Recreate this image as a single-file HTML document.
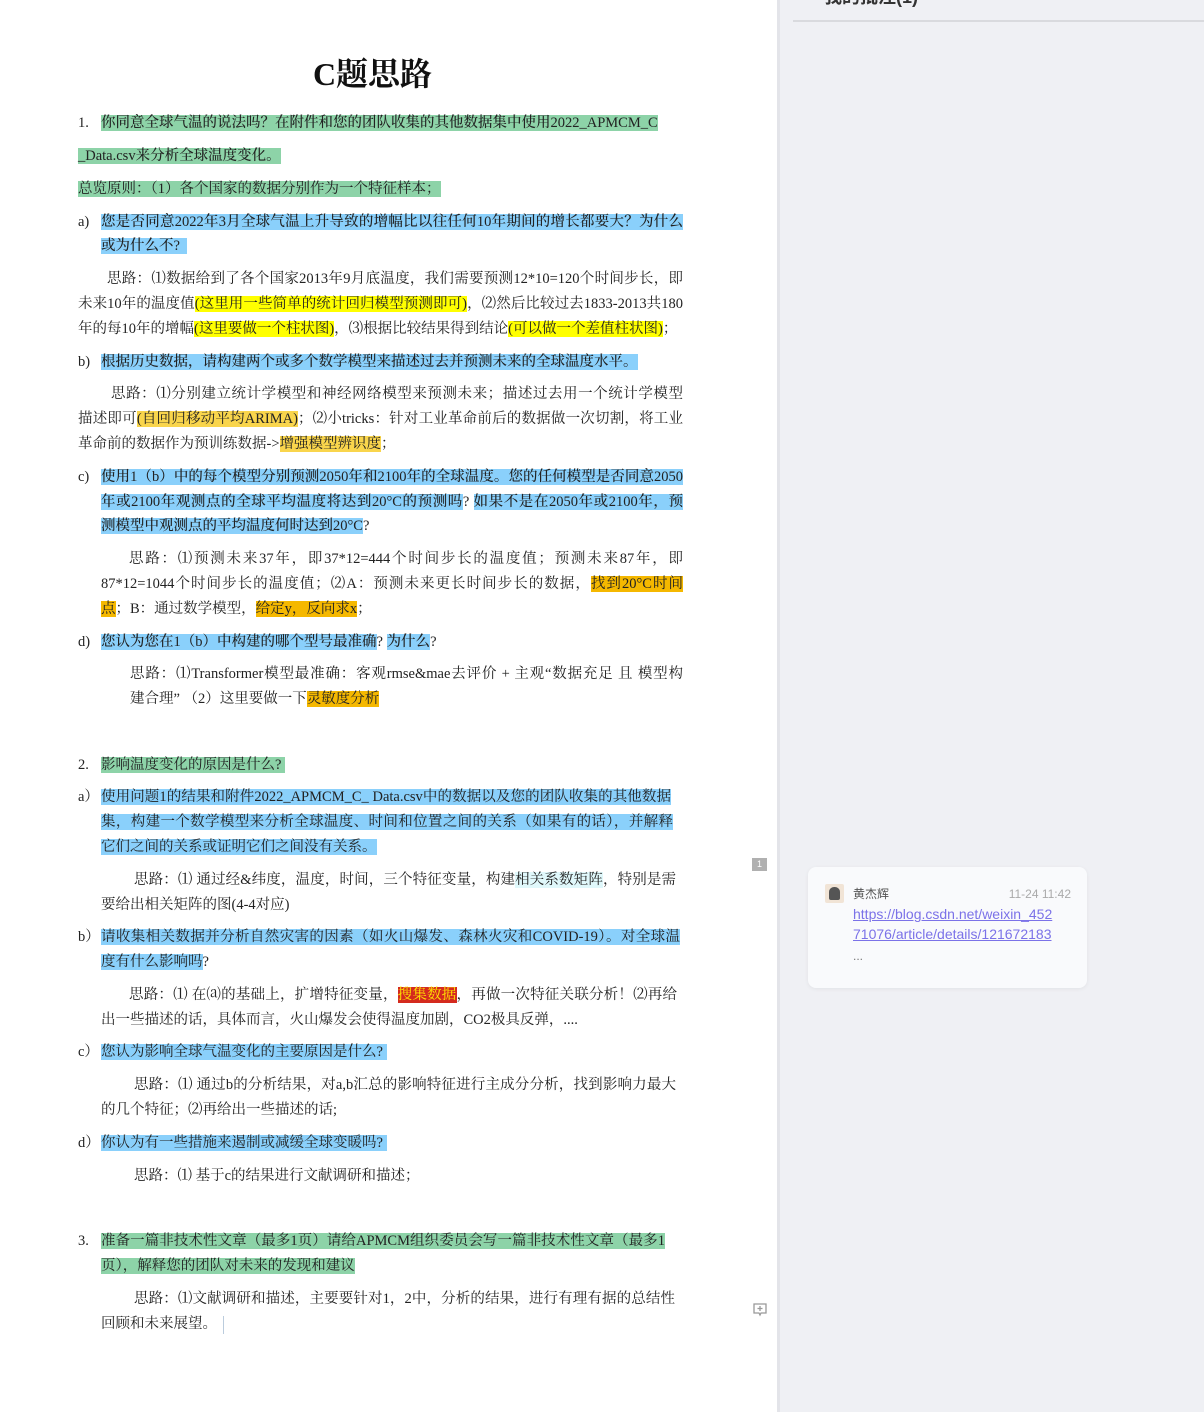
<!DOCTYPE html>
<html><head><meta charset="utf-8">
<style>
body{margin:0;width:1204px;height:1412px;position:relative;background:#fff;overflow:hidden;font-family:"Liberation Serif","Noto Serif CJK SC",serif;color:#222;}
.l{position:absolute;white-space:nowrap;font-size:14.5px;line-height:22px;height:22px;margin-top:1px;}
.j{text-align:justify;text-align-last:justify;}
.g{background:#8dd3a8;}
.b{background:#8ad0fb;}
.y{background:#ffff00;}
.o{background:#f5b800;}
.ly{background:#f9d54c;}
.r{background:#d42a1e;color:#ffe600;}
.c{background:#e0f8fb;}
.bd{font-weight:500;}
#side{position:absolute;left:777px;top:0;width:427px;height:1412px;background:#eff0f4;border-left:3px solid #e3e4e9;box-sizing:border-box;}
</style></head><body>
<div style="position:absolute;left:0;top:49px;width:745px;text-align:center;font-size:32px;font-weight:bold;color:#111;">C题思路</div>

<div class="l" style="left:78px;top:111px">1.</div>
<div class="l bd" style="left:101px;top:111px"><span class="g">你同意全球气温的说法吗？在附件和您的团队收集的其他数据集中使用2022_APMCM_C</span></div>
<div class="l bd" style="left:78px;top:144px"><span class="g">_Data.csv来分析全球温度变化。</span></div>
<div class="l" style="left:78px;top:177px"><span class="g">总览原则：（1）各个国家的数据分别作为一个特征样本；</span></div>

<div class="l" style="left:78px;top:210px">a)</div>
<div class="l bd j" style="left:101px;top:210px;width:582px"><span class="b">您是否同意2022年3月全球气温上升导致的增幅比以往任何10年期间的增长都要大？为什么</span></div>
<div class="l bd" style="left:101px;top:234px"><span class="b">或为什么不?&nbsp;&nbsp;</span></div>
<div class="l j" style="left:107px;top:267px;width:576px">思路：⑴数据给到了各个国家2013年9月底温度，我们需要预测12*10=120个时间步长，即</div>
<div class="l j" style="left:78px;top:292px;width:605px">未来10年的温度值<span class="y">(这里用一些简单的统计回归模型预测即可)</span>，⑵然后比较过去1833-2013共180</div>
<div class="l" style="left:78px;top:317px">年的每10年的增幅<span class="y">(这里要做一个柱状图)</span>，⑶根据比较结果得到结论<span class="y">(可以做一个差值柱状图)</span>；</div>

<div class="l" style="left:78px;top:350px">b)</div>
<div class="l bd" style="left:101px;top:350px"><span class="b">根据历史数据，请构建两个或多个数学模型来描述过去并预测未来的全球温度水平。</span></div>
<div class="l j" style="left:111px;top:382px;width:572px">思路：⑴分别建立统计学模型和神经网络模型来预测未来；描述过去用一个统计学模型</div>
<div class="l j" style="left:78px;top:407px;width:605px">描述即可<span class="ly">(自回归移动平均ARIMA)</span>；⑵小tricks：针对工业革命前后的数据做一次切割，将工业</div>
<div class="l" style="left:78px;top:432px">革命前的数据作为预训练数据-&gt;<span class="ly">增强模型辨识度</span>；</div>

<div class="l" style="left:78px;top:465px">c)</div>
<div class="l bd j" style="left:101px;top:465px;width:582px"><span class="b">使用1（b）中的每个模型分别预测2050年和2100年的全球温度。您的任何模型是否同意2050</span></div>
<div class="l bd j" style="left:101px;top:490px;width:582px"><span class="b">年或2100年观测点的全球平均温度将达到20°C的预测吗</span>?&nbsp;<span class="b">如果不是在2050年或2100年，预</span></div>
<div class="l bd" style="left:101px;top:514px"><span class="b">测模型中观测点的平均温度何时达到20°C</span>?</div>
<div class="l j" style="left:129px;top:547px;width:554px">思路：⑴预测未来37年，即37*12=444个时间步长的温度值；预测未来87年，即</div>
<div class="l j" style="left:101px;top:572px;width:582px">87*12=1044个时间步长的温度值；⑵A：预测未来更长时间步长的数据，<span class="o">找到20°C时间</span></div>
<div class="l" style="left:101px;top:597px"><span class="o">点</span>；B：通过数学模型，<span class="o">给定y，反向求x</span>；</div>

<div class="l" style="left:78px;top:630px">d)</div>
<div class="l bd" style="left:101px;top:630px"><span class="b">您认为您在1（b）中构建的哪个型号最准确</span>?&nbsp;<span class="b">为什么</span>?</div>
<div class="l j" style="left:130px;top:662px;width:553px">思路：⑴Transformer模型最准确：客观rmse&amp;mae去评价 + 主观“数据充足 且 模型构</div>
<div class="l" style="left:130px;top:687px">建合理” （2）这里要做一下<span class="o">灵敏度分析</span></div>

<div class="l" style="left:78px;top:753px">2.</div>
<div class="l" style="left:101px;top:753px"><span class="g">影响温度变化的原因是什么?&nbsp;</span></div>
<div class="l" style="left:78px;top:785px">a）</div>
<div class="l j" style="left:101px;top:785px;width:570px"><span class="b">使用问题1的结果和附件2022_APMCM_C_ Data.csv中的数据以及您的团队收集的其他数据</span></div>
<div class="l j" style="left:101px;top:810px;width:572px"><span class="b">集，构建一个数学模型来分析全球温度、时间和位置之间的关系（如果有的话），并解释</span></div>
<div class="l" style="left:101px;top:835px"><span class="b">它们之间的关系或证明它们之间没有关系。</span></div>
<div class="l j" style="left:134px;top:868px;width:542px">思路：⑴ 通过经&amp;纬度，温度，时间，三个特征变量，构建<span class="c">相关系数矩阵</span>，特别是需</div>
<div class="l" style="left:101px;top:893px">要给出相关矩阵的图(4-4对应)</div>

<div class="l" style="left:78px;top:925px">b）</div>
<div class="l j" style="left:101px;top:925px;width:579px"><span class="b">请收集相关数据并分析自然灾害的因素（如火山爆发、森林火灾和COVID-19）。对全球温</span></div>
<div class="l" style="left:101px;top:950px"><span class="b">度有什么影响吗</span>?</div>
<div class="l j" style="left:129px;top:983px;width:548px">思路：⑴ 在⒜的基础上，扩增特征变量，<span class="r">搜集数据</span>，再做一次特征关联分析！⑵再给</div>
<div class="l" style="left:101px;top:1008px">出一些描述的话，具体而言，火山爆发会使得温度加剧，CO2极具反弹，....</div>

<div class="l" style="left:78px;top:1040px">c）</div>
<div class="l" style="left:101px;top:1040px"><span class="b">您认为影响全球气温变化的主要原因是什么?&nbsp;</span></div>
<div class="l j" style="left:134px;top:1073px;width:542px">思路：⑴ 通过b的分析结果，对a,b汇总的影响特征进行主成分分析，找到影响力最大</div>
<div class="l" style="left:101px;top:1098px">的几个特征；⑵再给出一些描述的话;</div>

<div class="l" style="left:78px;top:1131px">d）</div>
<div class="l" style="left:101px;top:1131px"><span class="b">你认为有一些措施来遏制或减缓全球变暖吗?&nbsp;</span></div>
<div class="l" style="left:134px;top:1164px">思路：⑴ 基于c的结果进行文献调研和描述；</div>

<div class="l" style="left:78px;top:1229px">3.</div>
<div class="l j" style="left:101px;top:1229px;width:564px"><span class="g">准备一篇非技术性文章（最多1页）请给APMCM组织委员会写一篇非技术性文章（最多1</span></div>
<div class="l" style="left:101px;top:1254px"><span class="g">页），解释您的团队对未来的发现和建议</span></div>
<div class="l j" style="left:134px;top:1287px;width:541px">思路：⑴文献调研和描述，主要要针对1，2中，分析的结果，进行有理有据的总结性</div>
<div class="l" style="left:101px;top:1312px">回顾和未来展望。<span style="display:inline-block;width:1px;height:18px;background:#bcd;vertical-align:middle;margin-left:6px"></span></div>

<div style="position:absolute;left:752px;top:858px;width:15px;height:13px;background:#b0b0b0;color:#fff;font:9px 'Liberation Sans',sans-serif;text-align:center;line-height:13px;">1</div>
<svg style="position:absolute;left:752px;top:1302px" width="16" height="16" viewBox="0 0 16 16"><path d="M2 2h12v9H9l-1 2-1-2H2z" fill="none" stroke="#999" stroke-width="1.3"/><path d="M8 4v5M5.5 6.5h5" stroke="#999" stroke-width="1.3"/></svg>

<div id="side">
  <div style="position:absolute;left:44px;top:-17px;font:bold 18px 'Liberation Sans','Noto Sans CJK SC',sans-serif;color:#333;">我的批注(1)</div>
  <div style="position:absolute;left:13px;top:20px;right:0;height:2px;background:#d9dade"></div>
  <div style="position:absolute;left:28px;top:867px;width:279px;height:121px;background:#f9fafc;border-radius:8px;box-shadow:0 1px 4px rgba(0,0,0,.06);font-family:'Liberation Sans','Noto Sans CJK SC',sans-serif;">
    <div style="position:absolute;left:17px;top:17px;width:19px;height:19px;background:#f1e4d6;border-radius:2px;"><div style="margin:3px 4px;width:11px;height:13px;background:#555;border-radius:5px 5px 2px 2px"></div></div>
    <div style="position:absolute;left:45px;top:18px;font-size:12px;color:#555">黄杰辉</div>
    <div style="position:absolute;right:16px;top:20px;font-size:12px;color:#aaa">11-24 11:42</div>
    <div style="position:absolute;left:45px;top:37px;font-size:14px;line-height:20px;color:#7b72e8;text-decoration:underline;white-space:nowrap">https://blog.csdn.net/weixin_452<br>71076/article/details/121672183</div>
    <div style="position:absolute;left:45px;top:82px;font-size:12px;color:#777">...</div>
  </div>
</div>
</body></html>
